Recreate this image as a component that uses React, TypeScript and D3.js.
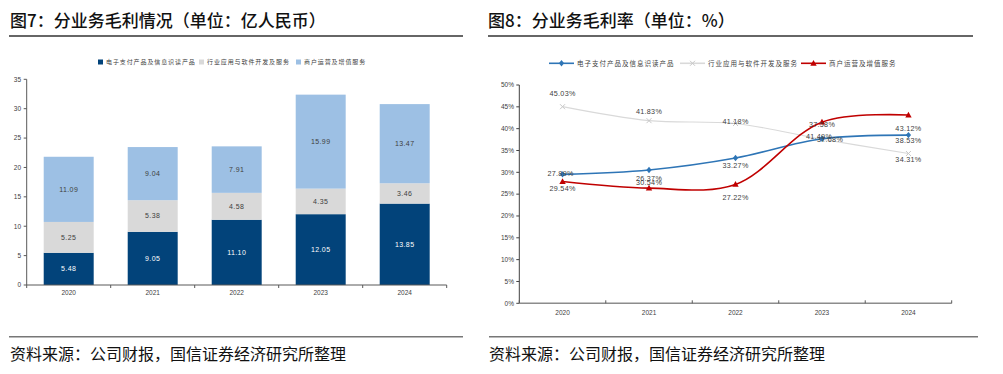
import * as d3 from "d3";

const years = ["2020", "2021", "2022", "2023", "2024"];
const seriesNames = ["电子支付产品及信息识读产品", "行业应用与软件开发及服务", "商户运营及增值服务"];

// 图7 毛利（亿元）
const profitPay = [5.48, 9.05, 11.1, 12.05, 13.85];
const profitSoft = [5.25, 5.38, 4.58, 4.35, 3.46];
const profitMerchant = [11.09, 9.04, 7.91, 15.99, 13.47];
const profitTicks = [0, 5, 10, 15, 20, 25, 30, 35];

// 图8 毛利率（%）
const marginPay = [29.54, 30.54, 33.27, 37.68, 38.53];
const marginSoft = [45.03, 41.83, 41.18, 37.58, 34.31];
const marginMerchant = [27.89, 26.37, 27.22, 41.49, 43.12];
const marginTicks = [0, 5, 10, 15, 20, 25, 30, 35, 40, 45, 50];

// label offsets as placed in the original figure
const offPay = [[0, 14], [0, 13], [0, 7], [8, 1], [0, 5]];
const offSoft = [[0, -13], [0, -9], [0, -2], [0, -15], [0, 6]];
const offMerchant = [[-2, -8], [0, -10], [0, 13], [-3, 14], [0, 13]];

const FONT = "'Liberation Sans', Arial, sans-serif";
const CJK = "'Noto Sans CJK SC', sans-serif";
const barColors = ["#02437a", "#d9d9d9", "#9dc0e4"];
const lineColors = ["#2e75b6", "#d9d9d9", "#c00000"];

function BarChart() {
  const x = d3.scaleBand().domain(years).range([26.7, 446.7]).paddingInner(0.405).paddingOuter(0.2025);
  const y = d3.scaleLinear().domain([0, 35]).range([285, 79.3]);
  const stacked = d3
    .stack<number>()
    .keys(["0", "1", "2"])
    .value((i, k) => [profitPay, profitSoft, profitMerchant][+k][i])(d3.range(years.length));
  const step = x.step();
  return (
    <g>
      {stacked.map((layer, li) =>
        layer.map((d, i) => {
          const x0 = x(years[i])!;
          const v = d[1] - d[0];
          return (
            <g key={`${li}-${i}`}>
              <rect x={x0} width={x.bandwidth()} y={y(d[1])} height={y(d[0]) - y(d[1])} fill={barColors[li]} />
              <text
                x={x0 + x.bandwidth() / 2}
                y={y((d[0] + d[1]) / 2)}
                dy="0.35em"
                textAnchor="middle"
                fontSize={7}
                fontFamily={FONT}
                letterSpacing={0.4}
                fill={li === 0 ? "#ffffff" : "#404040"}
              >
                {v.toFixed(2)}
              </text>
            </g>
          );
        })
      )}
      {/* axes */}
      <line x1={26.7} x2={26.7} y1={79.3} y2={285} stroke="#595959" strokeWidth={1} />
      <line x1={26.7} x2={446.7} y1={285} y2={285} stroke="#595959" strokeWidth={1} />
      {profitTicks.map((t) => (
        <g key={t}>
          <line x1={23.7} x2={26.7} y1={y(t)} y2={y(t)} stroke="#595959" />
          <text x={21} y={y(t)} dy="0.35em" textAnchor="end" fontSize={6.5} fontFamily={FONT} fill="#404040">
            {t}
          </text>
        </g>
      ))}
      {d3.range(years.length + 1).map((i) => (
        <line key={i} x1={26.7 + i * step} x2={26.7 + i * step} y1={285} y2={288} stroke="#595959" />
      ))}
      {years.map((yr) => (
        <text key={yr} x={x(yr)! + x.bandwidth() / 2} y={293} dy="0.35em" textAnchor="middle" fontSize={6.5} fontFamily={FONT} fill="#404040">
          {yr}
        </text>
      ))}
      {/* legend */}
      {seriesNames.map((n, i) => {
        const lx = [98, 199, 296][i];
        return (
          <g key={n}>
            <rect x={lx} y={59.5} width={5} height={5} fill={barColors[i]} />
            <text x={lx + 8} y={62} dy="0.35em" fontSize={6} letterSpacing={0.9} fontFamily={CJK} fill="#404040">
              {n}
            </text>
          </g>
        );
      })}
    </g>
  );
}

function Marker({ kind, cx, cy, color }: { kind: number; cx: number; cy: number; color: string }) {
  if (kind === 0) {
    return <path d={`M${cx},${cy - 3.2}L${cx + 2.6},${cy}L${cx},${cy + 3.2}L${cx - 2.6},${cy}Z`} fill={color} />;
  }
  if (kind === 1) {
    return (
      <path d={`M${cx - 2.5},${cy - 2.5}L${cx + 2.5},${cy + 2.5}M${cx - 2.5},${cy + 2.5}L${cx + 2.5},${cy - 2.5}`} stroke={color} strokeWidth={1} />
    );
  }
  return <path d={`M${cx},${cy - 3.4}L${cx + 3.2},${cy + 2.4}L${cx - 3.2},${cy + 2.4}Z`} fill={color} />;
}

function LineChart() {
  const x = d3.scaleBand().domain(years).range([519.3, 951.7]);
  const y = d3.scaleLinear().domain([0, 50]).range([303.3, 85]);
  const cx = (yr: string) => x(yr)! + x.bandwidth() / 2;
  const line = d3
    .line<number>()
    .x((_, i) => cx(years[i]))
    .y((v) => y(v))
    .curve(d3.curveCatmullRom.alpha(0.5));
  const all = [marginPay, marginSoft, marginMerchant];
  const offs = [offPay, offSoft, offMerchant];
  const drawOrder = [1, 0, 2];
  return (
    <g>
      <line x1={519.3} x2={519.3} y1={85} y2={303.3} stroke="#404040" strokeWidth={1} />
      {marginTicks.map((t) => (
        <g key={t}>
          <line x1={516.3} x2={519.3} y1={y(t)} y2={y(t)} stroke="#404040" />
          <text x={514} y={y(t)} dy="0.35em" textAnchor="end" fontSize={6.5} fontFamily={FONT} fill="#404040">
            {t}%
          </text>
        </g>
      ))}
      <line x1={519.3} x2={951.7} y1={303.3} y2={303.3} stroke="#8c8c8c" strokeWidth={1.5} />
      {d3.range(years.length + 1).map((i) => (
        <line key={i} x1={519.3 + i * x.step()} x2={519.3 + i * x.step()} y1={300.3} y2={303.3} stroke="#595959" />
      ))}
      {years.map((yr) => (
        <text key={yr} x={cx(yr)} y={313} dy="0.35em" textAnchor="middle" fontSize={6.5} fontFamily={FONT} fill="#404040">
          {yr}
        </text>
      ))}
      {drawOrder.map((si) => (
        <g key={si}>
          <path d={line(all[si])!} fill="none" stroke={lineColors[si]} strokeWidth={si === 1 ? 1.2 : 1.6} />
          {all[si].map((v, i) => (
            <Marker key={i} kind={si} cx={cx(years[i])} cy={y(v)} color={si === 1 ? "#c8c8c8" : lineColors[si]} />
          ))}
        </g>
      ))}
      {drawOrder.map((si) =>
        all[si].map((v, i) => (
          <text
            key={`${si}-${i}`}
            x={cx(years[i]) + offs[si][i][0]}
            y={y(v) + offs[si][i][1]}
            dy="0.35em"
            textAnchor="middle"
            fontSize={7.2}
            letterSpacing={0.3}
            fontFamily={FONT}
            fill="#404040"
          >
            {v.toFixed(2)}%
          </text>
        ))
      )}
      {/* legend */}
      {seriesNames.map((n, i) => {
        const lx = [549, 680, 801][i];
        return (
          <g key={n}>
            <line x1={lx} x2={lx + 25} y1={63.3} y2={63.3} stroke={lineColors[i]} strokeWidth={1.6} />
            <Marker kind={i} cx={lx + 12.5} cy={63.3} color={i === 1 ? "#c8c8c8" : lineColors[i]} />
            <text x={lx + 28} y={63.3} dy="0.35em" fontSize={6.5} letterSpacing={1} fontFamily={CJK} fill="#404040">
              {n}
            </text>
          </g>
        );
      })}
    </g>
  );
}

export default function App() {
  return (
    <svg width={1003} height={374} style={{ position: "absolute", left: 0, top: 0, background: "#fff" }}>
      <rect width={1003} height={374} fill="#fff" />
      <text x={10} y={27} fontSize={17} fontFamily={CJK} fontWeight={500} fill="#111">
        图7：分业务毛利情况（单位：亿人民币）
      </text>
      <line x1={9} x2={463} y1={36} y2={36} stroke="#333" strokeWidth={1.5} />
      <text x={488} y={27} fontSize={17} fontFamily={CJK} fontWeight={500} fill="#111">
        图8：分业务毛利率（单位：%）
      </text>
      <line x1={488} x2={973} y1={36} y2={36} stroke="#333" strokeWidth={1.5} />
      <BarChart />
      <LineChart />
      <line x1={9} x2={463} y1={336.7} y2={336.7} stroke="#777" strokeWidth={1.5} />
      <line x1={489} x2={978} y1={336.7} y2={336.7} stroke="#777" strokeWidth={1.5} />
      <text x={10} y={360} fontSize={16} fontFamily={CJK} fill="#111">
        资料来源：公司财报，国信证券经济研究所整理
      </text>
      <text x={489} y={360} fontSize={16} fontFamily={CJK} fill="#111">
        资料来源：公司财报，国信证券经济研究所整理
      </text>
    </svg>
  );
}
